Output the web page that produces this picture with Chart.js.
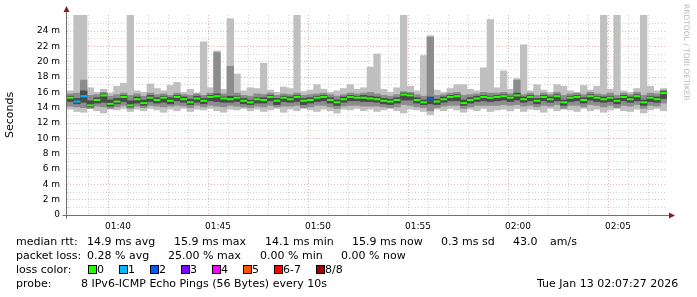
<!DOCTYPE html>
<html>
<head>
<meta charset="utf-8">
<script src="https://cdn.jsdelivr.net/npm/chart.js@4.4.1/dist/chart.umd.min.js"></script>
<style>
body { margin: 0; background: #fff; }
#wrap { position: relative; width: 697px; height: 297px; overflow: hidden; font-family: 'DejaVu Sans', sans-serif; font-size: 11px; color: #000; }
#c { position: absolute; left: 0; top: 0; }
.t { position: absolute; white-space: pre; line-height: 13px; }
.box { position: absolute; width: 7px; height: 7px; border: 1px solid #000; }
#wm { position: absolute; left: 682px; top: 4px; writing-mode: vertical-rl; font-size: 7.5px; color: #b8b8b8; white-space: pre; }
</style>
</head>
<body>
<div id="wrap">
  <canvas id="c" width="697" height="297"></canvas>
  <div id="wm">RRDTOOL / TOBI OETIKER</div>
  <div id="legend"></div>
</div>
<script>
// time axis: seconds since 01:00:00, one sample every 20s
let startSec = 37 * 60 + 27
let stepSec = 20
let spanSec = 1800

// median rtt (ms) per step
let med = [15.3,14.8,15.5,14.3,15.0,15.6,14.5,14.8,15.4,14.3,
  15.1,14.6,15.3,15.0,15.3,14.9,15.4,15.1,14.7,15.2,
  14.9,15.4,15.5,15.2,15.1,15.3,14.9,14.7,15.1,15.0,
  15.4,14.9,15.3,15.1,15.4,14.9,15.0,15.3,15.4,15.0,
  14.7,15.1,15.4,15.3,15.3,15.2,15.1,14.9,14.8,15.0,
  15.7,15.6,15.0,14.7,15.1,14.8,15.1,15.4,15.5,14.6,
  15.0,15.2,15.4,15.3,15.4,15.5,15.3,15.6,15.1,15.4,
  14.9,15.4,15.1,15.5,14.7,15.3,15.4,15.0,15.5,15.3,
  15.1,15.3,14.9,15.4,15.1,15.5,14.7,15.3,15.1,15.9]

// lost pings per step (of 8)
let loss = [0,1,1,0,0,0,0,0,0,0,
  0,0,0,0,0,0,0,0,0,0,
  0,0,0,0,0,0,0,0,0,0,
  0,0,0,0,0,0,0,0,0,0,
  0,0,0,0,0,0,0,0,0,0,
  0,0,0,0,2,0,0,0,0,0,
  0,0,0,0,0,0,0,0,0,0,
  0,0,0,0,0,0,0,0,0,0,
  0,0,0,0,0,0,0,0,0,0]

// smoke: slowest / fastest ping
let pMax = [16.2,26.5,26.5,16.6,16.0,16.4,15.9,16.8,17.2,26.5,
  16.2,16.0,17.1,16.5,16.2,16.9,17.3,16.0,16.4,15.9,
  22.6,16.6,21.4,16.4,25.6,18.4,16.2,16.6,16.5,19.8,
  16.3,16.0,16.7,16.5,26.5,16.1,16.3,17.0,16.4,16.0,
  16.2,16.5,17.0,16.4,16.6,19.3,21.0,16.4,16.0,16.6,
  26.5,16.8,16.2,20.8,23.4,16.3,16.0,16.5,17.0,17.0,
  16.4,16.2,19.2,25.5,16.6,18.8,16.4,17.8,22.2,16.2,
  17.0,16.3,16.0,17.0,16.8,16.2,16.0,16.9,16.3,16.8,
  26.5,16.4,26.5,16.2,16.0,16.5,26.5,16.8,16.2,16.5]
let pMin = [13.8,13.5,13.4,13.9,13.6,13.3,13.8,13.7,13.9,13.5,
  13.8,13.6,13.9,13.7,13.4,13.8,13.6,13.9,13.5,13.8,
  13.7,13.9,13.6,13.4,13.8,13.7,13.9,13.6,13.8,13.5,
  13.7,13.9,13.4,13.8,13.6,13.9,13.7,13.5,13.8,13.6,
  13.3,13.8,13.7,13.9,13.6,13.8,13.5,13.7,13.9,13.6,
  13.3,13.8,13.7,13.5,13.1,13.8,13.6,13.9,13.7,13.4,
  13.8,13.6,13.9,13.5,13.7,13.8,13.6,13.9,13.5,13.8,
  13.7,13.4,13.9,13.6,13.8,13.7,13.5,13.9,13.6,13.8,
  13.4,13.7,13.9,13.6,13.5,13.8,13.3,13.7,13.9,13.6]

// smoke: 2nd / 7th ping
let p2hi = [15.8,15.9,17.6,15.6,15.7,16.0,15.5,15.7,15.9,15.6,
  15.8,15.5,15.9,15.7,15.8,15.6,15.9,15.7,15.6,15.8,
  15.6,15.9,21.2,15.8,19.4,15.9,15.6,15.5,15.8,15.7,
  15.9,15.6,15.8,15.7,15.9,15.6,15.7,15.8,15.9,15.7,
  15.5,15.7,15.9,15.8,15.9,16.0,15.8,15.6,15.5,15.7,
  16.1,16.0,15.7,15.5,23.2,15.6,15.7,15.9,16.0,15.6,
  15.7,15.8,16.0,15.9,15.9,16.0,15.8,17.6,15.7,15.9,
  15.6,15.9,15.7,16.0,15.6,15.8,15.9,15.7,16.0,15.8,
  15.7,15.9,15.6,15.9,15.7,16.0,15.6,15.9,15.8,16.3]
let p2lo = [14.2,14.1,14.0,13.9,14.2,14.1,13.9,14.1,14.3,13.9,
  14.2,14.0,14.3,14.2,14.1,14.2,14.3,14.2,14.0,14.3,
  14.1,14.3,14.2,14.1,14.3,14.2,14.1,14.0,14.2,14.1,
  14.3,14.1,14.2,14.2,14.3,14.0,14.1,14.3,14.3,14.1,
  13.9,14.2,14.3,14.3,14.2,14.2,14.2,14.1,14.0,14.1,
  14.4,14.3,14.1,14.0,13.6,14.0,14.2,14.3,14.3,13.9,
  14.1,14.3,14.3,14.3,14.3,14.4,14.3,14.4,14.2,14.3,
  14.1,14.3,14.2,14.4,13.9,14.3,14.3,14.1,14.4,14.3,
  14.1,14.3,14.0,14.3,14.2,14.4,13.9,14.3,14.2,14.6]

// smoke: 3rd / 6th ping
let p3hi = [15.5,15.2,16.2,14.9,15.3,15.8,15.0,15.2,15.6,14.9,
  15.4,15.0,15.6,15.3,15.5,15.3,15.6,15.4,15.1,15.5,
  15.2,15.6,15.8,15.4,15.5,15.5,15.2,15.0,15.3,15.3,
  15.6,15.2,15.5,15.4,15.6,15.2,15.3,15.5,15.6,15.3,
  15.0,15.4,15.6,15.5,15.6,15.5,15.4,15.2,15.1,15.3,
  15.9,15.8,15.3,15.0,15.4,15.1,15.4,15.6,15.7,15.0,
  15.3,15.5,15.6,15.5,15.6,15.7,15.5,15.9,15.4,15.6,
  15.2,15.6,15.4,15.7,15.0,15.5,15.6,15.3,15.7,15.5,
  15.4,15.5,15.2,15.6,15.4,15.7,15.0,15.5,15.4,16.1]
let p3lo = [14.8,14.5,14.7,14.1,14.6,14.7,14.2,14.5,14.8,14.1,
  14.6,14.3,14.8,14.6,14.7,14.5,14.9,14.7,14.4,14.7,
  14.5,14.9,14.8,14.7,14.7,14.8,14.5,14.4,14.6,14.6,
  14.9,14.4,14.8,14.7,14.8,14.4,14.6,14.8,14.9,14.6,
  14.3,14.7,14.9,14.9,14.8,14.8,14.7,14.5,14.4,14.6,
  15.0,15.0,14.6,14.4,14.5,14.4,14.7,14.9,14.9,14.3,
  14.6,14.8,14.9,14.8,14.9,15.0,14.8,15.0,14.7,14.9,
  14.5,14.9,14.7,14.9,14.3,14.8,14.9,14.6,15.0,14.8,
  14.7,14.8,14.5,14.9,14.7,14.9,14.3,14.8,14.7,15.2]

// loss colour legend
let lossLabels = ['0','1','2','3','4','5','6-7','8/8']
let lossColors = ['#26ff00','#00b8ff','#0059ff','#7e00ff','#ff00ff','#ff5500','#ff0000','#a10000']
let lossIndex = [0,1,2,3,4,5,6,6,7]

let yMax = 26.09

function stepX(i){
  return startSec + stepSec * i + stepSec / 2
}

function band(lo, hi){
  return lo.map((v, i) => ({x: stepX(i), y: [v, hi[i]]}))
}

function hhmm(sec){
  let h = Math.floor(sec / 3600)
  let m = Math.floor(sec / 60) % 60
  return String(h + 1).padStart(2, '0') + ':' + String(m).padStart(2, '0')
}

// legend text
let legendLines = [
  [[16,'median rtt:'],[87,'14.9 ms avg'],[174,'15.9 ms max'],[265,'14.1 ms min'],[352,'15.9 ms now'],[441,'0.3 ms sd'],[513,'43.0'],[550,'am/s']],
  [[16,'packet loss:'],[87,'0.28 % avg'],[168,'25.00 % max'],[260,'0.00 % min'],[341,'0.00 % now']],
  [[16,'loss color:']],
  [[16,'probe:'],[81,'8 IPv6-ICMP Echo Pings (56 Bytes) every 10s'],[537,'Tue Jan 13 02:07:27 2026']]
]
let lineTops = [235, 249, 263, 277]
let boxLefts = [88, 119, 150, 181, 212, 243, 274, 316]

let legendDiv = document.getElementById('legend')
legendLines.forEach((line, li) => {
  line.forEach(item => {
    let s = document.createElement('div')
    s.className = 't'
    s.style.left = item[0] + 'px'
    s.style.top = lineTops[li] + 'px'
    s.textContent = item[1]
    legendDiv.appendChild(s)
  })
})
lossLabels.forEach((lab, i) => {
  let b = document.createElement('div')
  b.className = 'box'
  b.style.left = boxLefts[i] + 'px'
  b.style.top = (lineTops[2] + 2) + 'px'
  b.style.background = lossColors[i]
  legendDiv.appendChild(b)
  let s = document.createElement('div')
  s.className = 't'
  s.style.left = (boxLefts[i] + 9) + 'px'
  s.style.top = lineTops[2] + 'px'
  s.textContent = lab
  legendDiv.appendChild(s)
})

// axis lines with little red arrows like rrdtool
const axisArrows = {
  id: 'axisArrows',
  afterDatasetsDraw(chart){
    const {ctx, chartArea: a} = chart
    let x0 = Math.round(a.left) - 0.5
    let y0 = Math.round(a.bottom) + 0.5
    ctx.save()
    ctx.strokeStyle = '#707070'
    ctx.lineWidth = 1
    ctx.beginPath()
    ctx.moveTo(x0, y0 + 3)
    ctx.lineTo(x0, a.top - 5)
    ctx.moveTo(x0 - 4, y0)
    ctx.lineTo(a.right + 4, y0)
    ctx.stroke()
    ctx.fillStyle = '#8b1c1c'
    ctx.beginPath()
    ctx.moveTo(x0 - 3, a.top - 3)
    ctx.lineTo(x0 + 3, a.top - 3)
    ctx.lineTo(x0, a.top - 9)
    ctx.closePath()
    ctx.fill()
    ctx.beginPath()
    ctx.moveTo(a.right + 2, y0 - 3)
    ctx.lineTo(a.right + 2, y0 + 3)
    ctx.lineTo(a.right + 8, y0)
    ctx.closePath()
    ctx.fill()
    ctx.restore()
  }
}

let minuteTicks = []
for (let s = Math.ceil(startSec / 60) * 60; s <= startSec + spanSec; s += 60) minuteTicks.push({value: s})
let msTicks = []
for (let v = 0; v <= 25; v++) msTicks.push({value: v})

let medPoints = med.map((v, i) => ({x: stepX(i), y: v}))
let medColors = loss.map(l => lossColors[lossIndex[l]])

new Chart(document.getElementById('c'), {
  type: 'bar',
  data: {
    datasets: [
      {
        type: 'line',
        data: medPoints,
        showLine: false,
        pointStyle: 'line',
        pointRadius: 3.34,
        pointBorderWidth: 2,
        pointBorderColor: medColors,
        pointBackgroundColor: medColors,
        order: 0
      },
      { data: band(p3lo, p3hi), backgroundColor: '#4a4a4a', grouped: false, barPercentage: 1, categoryPercentage: 1, order: 1 },
      { data: band(p2lo, p2hi), backgroundColor: '#8c8c8c', grouped: false, barPercentage: 1, categoryPercentage: 1, order: 2 },
      { data: band(pMin, pMax), backgroundColor: '#c0c0c0', grouped: false, barPercentage: 1, categoryPercentage: 1, order: 3 }
    ]
  },
  options: {
    responsive: false,
    animation: false,
    devicePixelRatio: 1,
    layout: { padding: { left: 0, top: 15, right: 30, bottom: 0 } },
    plugins: { legend: { display: false }, tooltip: { enabled: false } },
    scales: {
      x: {
        type: 'linear',
        min: startSec,
        max: startSec + spanSec,
        offset: false,
        afterBuildTicks: s => { s.ticks = minuteTicks.slice() },
        afterFit: s => { s.height = 82 },
        ticks: {
          autoSkip: false,
          maxRotation: 0,
          padding: 6,
          color: '#000',
          font: { family: 'DejaVu Sans', size: 9 },
          callback: v => (v % 300 === 0 ? hhmm(v) : '')
        },
        grid: {
          drawTicks: false,
          color: c => (c.tick && c.tick.value % 300 === 0 ? '#e3b2b2' : '#d4d4d4')
        },
        border: { display: false, dash: [1, 2] }
      },
      y: {
        min: 0,
        max: yMax,
        afterBuildTicks: s => { s.ticks = msTicks.slice() },
        afterFit: s => { s.width = 67 },
        ticks: {
          autoSkip: false,
          padding: 7,
          color: '#000',
          font: { family: 'DejaVu Sans', size: 9 },
          callback: v => (v % 2 === 0 ? (v === 0 ? '0' : v + ' m') : '')
        },
        grid: {
          drawTicks: false,
          color: c => {
            let v = c.tick ? c.tick.value : 0
            if (v === 0) return 'rgba(0,0,0,0)'
            return v % 2 === 0 ? '#e3b2b2' : '#d4d4d4'
          }
        },
        border: { display: false, dash: [1, 2] },
        title: {
          display: true,
          text: 'Seconds',
          color: '#000',
          font: { family: 'DejaVu Sans', size: 11 },
          padding: { top: 4, bottom: 0 }
        }
      }
    }
  },
  plugins: [axisArrows]
})
</script>
</body>
</html>
